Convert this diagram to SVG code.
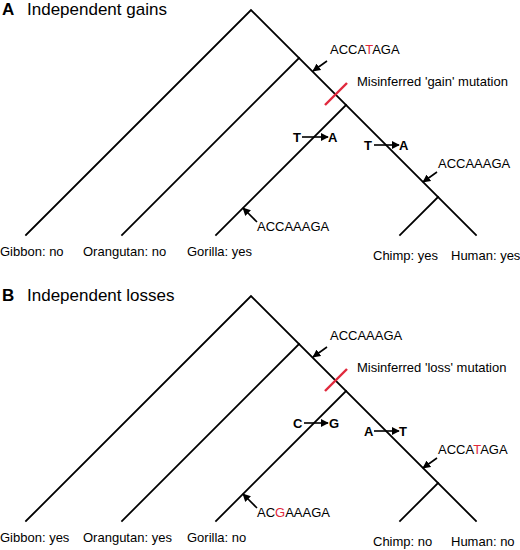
<svg xmlns="http://www.w3.org/2000/svg" width="520" height="550" viewBox="0 0 520 550">
<defs>
<marker id="ah" viewBox="0 0 10 10" refX="9" refY="5" markerWidth="8" markerHeight="8" markerUnits="userSpaceOnUse" orient="auto">
<path d="M0,0 L10,5 L0,10 z" fill="#000"/>
</marker>
<style>
.br{stroke:#000;stroke-width:1.8;fill:none;stroke-linecap:square}
.tick{stroke:#e0283c;stroke-width:2.4;fill:none}
.ar{stroke:#000;stroke-width:1.6;fill:none;marker-end:url(#ah)}
text{font-family:"Liberation Sans",Arial,sans-serif;fill:#000}
.t{font-size:13px}
.ttl{font-size:17px}
.lt{font-size:17px;font-weight:bold}
.mut{font-size:13px;font-weight:bold}
.red{fill:#e0283c}
</style>
</defs>
<rect width="520" height="550" fill="#fff"/>

<g id="panelA">
<g id="connectorsA">
<path class="br" d="M26,235 L251,10 L476,235"/>
<path class="br" d="M299,58 L122,235"/>
<path class="br" d="M346,105 L216,235"/>
<path class="br" d="M438,197 L400,235"/>
<path class="tick" d="M325,105 L347,83"/>
<path class="ar" d="M327,61 L313,71"/>
<path class="ar" d="M257,222 L243,208"/>
<path class="ar" d="M437,172 L423,182"/>
<path class="ar" d="M302,137 L328,137"/>
<path class="ar" d="M374,145 L399,145"/>
</g>
<g id="titleA"><text class="lt" x="2" y="15">A</text><text class="ttl" x="27" y="15">Independent gains</text></g>
<g id="ancA"><text class="t" x="330" y="54">ACCA<tspan class="red">T</tspan>AGA</text></g>
<g id="misA"><text class="t" x="357" y="86">Misinferred 'gain' mutation</text></g>
<g id="mutA1"><text class="mut" x="293" y="142">T</text><text class="mut" x="328" y="142">A</text></g>
<g id="mutA2"><text class="mut" x="364" y="150">T</text><text class="mut" x="399" y="150">A</text></g>
<g id="seqA1"><text class="t" x="438" y="168">ACCAAAGA</text></g>
<g id="seqA2"><text class="t" x="257" y="231">ACCAAAGA</text></g>
<g id="gibbonA"><text class="t" x="0" y="256">Gibbon: no</text></g>
<g id="orangA"><text class="t" x="83" y="256">Orangutan: no</text></g>
<g id="gorillaA"><text class="t" x="187" y="256">Gorilla:  yes</text></g>
<g id="chimpA"><text class="t" x="373" y="260">Chimp: yes</text></g>
<g id="humanA"><text class="t" x="451" y="260">Human: yes</text></g>
</g>

<g id="panelB" transform="translate(0,286)">
<g id="connectorsB">
<path class="br" d="M26,235 L251,10 L476,235"/>
<path class="br" d="M299,58 L122,235"/>
<path class="br" d="M346,105 L216,235"/>
<path class="br" d="M438,197 L400,235"/>
<path class="tick" d="M325,105 L347,83"/>
<path class="ar" d="M327,61 L313,71"/>
<path class="ar" d="M257,222 L243,208"/>
<path class="ar" d="M437,172 L423,182"/>
<path class="ar" d="M304,137 L328,137"/>
<path class="ar" d="M374,145 L399,145"/>
</g>
<g id="titleB"><text class="lt" x="2" y="15">B</text><text class="ttl" x="27" y="15">Independent losses</text></g>
<g id="ancB"><text class="t" x="330" y="54">ACCAAAGA</text></g>
<g id="misB"><text class="t" x="357" y="86">Misinferred 'loss' mutation</text></g>
<g id="mutB1"><text class="mut" x="293" y="142">C</text><text class="mut" x="329" y="142">G</text></g>
<g id="mutB2"><text class="mut" x="364" y="150">A</text><text class="mut" x="399" y="150">T</text></g>
<g id="seqB1"><text class="t" x="438" y="168">ACCA<tspan class="red">T</tspan>AGA</text></g>
<g id="seqB2"><text class="t" x="257" y="231">AC<tspan class="red">G</tspan>AAAGA</text></g>
<g id="gibbonB"><text class="t" x="0" y="256">Gibbon: yes</text></g>
<g id="orangB"><text class="t" x="83" y="256">Orangutan: yes</text></g>
<g id="gorillaB"><text class="t" x="187" y="256">Gorilla: no</text></g>
<g id="chimpB"><text class="t" x="373" y="260">Chimp: no</text></g>
<g id="humanB"><text class="t" x="451" y="260">Human: no</text></g>
</g>
</svg>
